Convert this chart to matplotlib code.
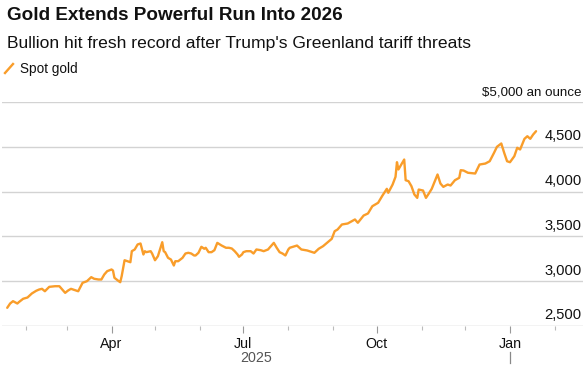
import matplotlib
matplotlib.use("Agg")
import matplotlib.pyplot as plt
import matplotlib.dates as mdates
from matplotlib.lines import Line2D
import pandas as pd

# ---- data ----
dates = [
    "2025-01-19", "2025-01-21", "2025-01-23", "2025-01-26", "2025-01-27", "2025-01-30",
    "2025-02-02", "2025-02-05", "2025-02-08", "2025-02-10", "2025-02-12", "2025-02-14",
    "2025-02-17", "2025-02-21", "2025-02-24", "2025-02-26", "2025-02-28", "2025-03-02",
    "2025-03-04", "2025-03-09", "2025-03-12", "2025-03-15", "2025-03-18", "2025-03-20",
    "2025-03-23", "2025-03-25", "2025-03-27", "2025-03-29", "2025-04-01", "2025-04-02",
    "2025-04-03", "2025-04-06", "2025-04-07", "2025-04-08", "2025-04-10", "2025-04-12",
    "2025-04-14", "2025-04-15", "2025-04-17", "2025-04-19", "2025-04-21", "2025-04-23",
    "2025-04-24", "2025-04-25", "2025-04-28", "2025-04-29", "2025-05-01", "2025-05-03",
    "2025-05-06", "2025-05-07", "2025-05-08", "2025-05-10", "2025-05-12", "2025-05-14",
    "2025-05-15", "2025-05-17", "2025-05-20", "2025-05-22", "2025-05-24", "2025-05-26",
    "2025-05-28", "2025-05-29", "2025-05-31", "2025-06-02", "2025-06-04", "2025-06-05",
    "2025-06-07", "2025-06-09", "2025-06-11", "2025-06-13", "2025-06-16", "2025-06-19",
    "2025-06-21", "2025-06-23", "2025-06-25", "2025-06-27", "2025-06-28", "2025-06-30",
    "2025-07-01", "2025-07-03", "2025-07-06", "2025-07-08", "2025-07-10", "2025-07-13",
    "2025-07-15", "2025-07-18", "2025-07-20", "2025-07-22", "2025-07-24", "2025-07-26",
    "2025-07-28", "2025-07-30", "2025-08-01", "2025-08-02", "2025-08-07", "2025-08-10",
    "2025-08-14", "2025-08-19", "2025-08-22", "2025-08-25", "2025-08-29", "2025-08-31",
    "2025-09-02", "2025-09-04", "2025-09-07", "2025-09-11", "2025-09-16", "2025-09-18",
    "2025-09-22", "2025-09-25", "2025-09-28", "2025-10-02", "2025-10-05", "2025-10-08",
    "2025-10-09", "2025-10-12", "2025-10-14", "2025-10-15", "2025-10-16", "2025-10-18",
    "2025-10-20", "2025-10-21", "2025-10-23", "2025-10-25", "2025-10-27", "2025-10-29",
    "2025-10-30", "2025-11-02", "2025-11-04", "2025-11-06", "2025-11-08", "2025-11-12",
    "2025-11-14", "2025-11-16", "2025-11-19", "2025-11-21", "2025-11-24", "2025-11-27",
    "2025-11-28", "2025-11-30", "2025-12-03", "2025-12-08", "2025-12-11", "2025-12-15",
    "2025-12-18", "2025-12-21", "2025-12-23", "2025-12-26", "2025-12-28", "2025-12-30",
    "2026-01-01", "2026-01-04", "2026-01-06", "2026-01-08", "2026-01-11", "2026-01-13",
    "2026-01-15", "2026-01-17", "2026-01-19",
]
spot_gold = [
    2703, 2751, 2777, 2751, 2766, 2804,
    2818, 2863, 2893, 2907, 2915, 2888,
    2937, 2944, 2944, 2907, 2870, 2896,
    2915, 2888, 2982, 3000, 3045, 3027,
    3019, 3019, 3075, 3112, 3131, 3119,
    3038, 3000, 2989, 3056, 3234, 3223,
    3212, 3335, 3354, 3410, 3421, 3298,
    3335, 3324, 3335, 3309, 3234, 3279,
    3435, 3335, 3324, 3261, 3242, 3175,
    3223, 3223, 3261, 3309, 3317, 3309,
    3287, 3287, 3317, 3384, 3362, 3373,
    3324, 3324, 3346, 3428, 3398, 3373,
    3373, 3365, 3335, 3298, 3272, 3298,
    3324, 3335, 3335, 3309, 3354, 3346,
    3335, 3354, 3391, 3428, 3373, 3324,
    3309, 3287, 3354, 3373, 3398, 3354,
    3343, 3317, 3362, 3391, 3446, 3473,
    3558, 3577, 3633, 3644, 3689, 3652,
    3733, 3756, 3837, 3875, 3956, 4031,
    3987, 4079, 4165, 4328, 4247, 4302,
    4358, 4127, 4116, 4060, 3968, 3930,
    4023, 4012, 3930, 3979, 4031, 4191,
    4090, 4053, 4079, 4068, 4127, 4154,
    4239, 4235, 4210, 4202, 4302, 4313,
    4339, 4433, 4500, 4537, 4433, 4339,
    4328, 4395, 4489, 4470, 4589, 4618,
    4589, 4637, 4674,
]
y_ticks = [2500, 3000, 3500, 4000, 4500, 5000]
y_tick_labels = ["2,500", "3,000", "3,500", "4,000", "4,500", "$5,000 an ounce"]
x_major_labels = ["Apr", "Jul", "Oct", "Jan"]
x_major_dates = ["2025-04-01", "2025-07-01", "2025-10-01", "2026-01-01"]
year_label = "2025"
title = "Gold Extends Powerful Run Into 2026"
subtitle = "Bullion hit fresh record after Trump's Greenland tariff threats"
series_name = "Spot gold"

# ---- styling ----
ORANGE = "#F99D2A"
TEXT = "#111111"
GRID = "#d3d3d3"
FONT = ["Liberation Sans", "DejaVu Sans"]
plt.rcParams["font.family"] = FONT

W, H = 587, 372
fig = plt.figure(figsize=(W / 100, H / 100), dpi=100)
fig.patch.set_facecolor("white")

ax_left, ax_right = 2 / W, 583 / W
ax_bottom, ax_top = 1 - 326 / H, 1 - 102 / H
ax = fig.add_axes([ax_left, ax_bottom, ax_right - ax_left, ax_top - ax_bottom])

x = pd.to_datetime(dates)
ax.plot(x, spot_gold, color=ORANGE, lw=1.7, solid_joinstyle="round",
        solid_capstyle="round", zorder=3, clip_on=False)

base = pd.Timestamp("2025-01-01")
ax.set_xlim(base + pd.Timedelta(days=14.4), base + pd.Timedelta(days=415.4))
ax.set_ylim(y_ticks[0], y_ticks[-1])

for s in ax.spines.values():
    s.set_visible(False)

# horizontal gridlines
for v in y_ticks[1:]:
    ax.axhline(v, color=GRID, lw=1.0, zorder=1)
ax.axhline(y_ticks[0], color="#c4c4c4", lw=1.0, zorder=1)

# y labels: right aligned, sitting above each gridline
ax.set_yticks([])
for v, lab in zip(y_ticks, y_tick_labels):
    last = v == y_ticks[-1]
    ax.annotate(lab, xy=(1.0, v), xycoords=("axes fraction", "data"),
                xytext=(-1, 2.2 if last else 2.6), textcoords="offset points",
                ha="right", va="bottom", fontsize=9.6 if last else 10.6,
                color=TEXT)

# x ticks: monthly minor, quarterly major
ax.xaxis.set_minor_locator(mdates.MonthLocator())
ax.set_xticks(pd.to_datetime(x_major_dates))
ax.set_xticklabels(x_major_labels)
ax.tick_params(axis="x", which="major", length=5, width=0.8, color="#999999",
               labelsize=10.3, labelcolor=TEXT, pad=3)
ax.tick_params(axis="x", which="minor", length=3, width=0.8, color="#bbbbbb")

# year label, centred under the 2025 part of the axis, plus year divider
xmin_num, _ = ax.get_xlim()
jan_num = mdates.date2num(pd.Timestamp(x_major_dates[-1]))
mid = (xmin_num + jan_num) / 2
ax.text(mid, -0.145, year_label, transform=ax.get_xaxis_transform(),
        ha="center", va="center", fontsize=10.3, color="#555555")
ax.plot([jan_num, jan_num], [-0.116, -0.165], transform=ax.get_xaxis_transform(),
        color="#888888", lw=0.9, clip_on=False)

# title / subtitle / legend
fig.text(7 / W, 1 - 16 / H, title, fontsize=13.6, fontweight="bold", color=TEXT,
         ha="left", va="center")
fig.text(7 / W, 1 - 43.5 / H, subtitle, fontsize=12.6, color=TEXT,
         ha="left", va="center")
fig.add_artist(Line2D([5 / W, 13 / W], [1 - 73 / H, 1 - 64 / H], color=ORANGE,
                      lw=1.7, transform=fig.transFigure))
fig.text(20 / W, 1 - 68.5 / H, series_name, fontsize=9.8, color=TEXT,
         ha="left", va="center")

fig.savefig("out.png", dpi=100, facecolor="white")
